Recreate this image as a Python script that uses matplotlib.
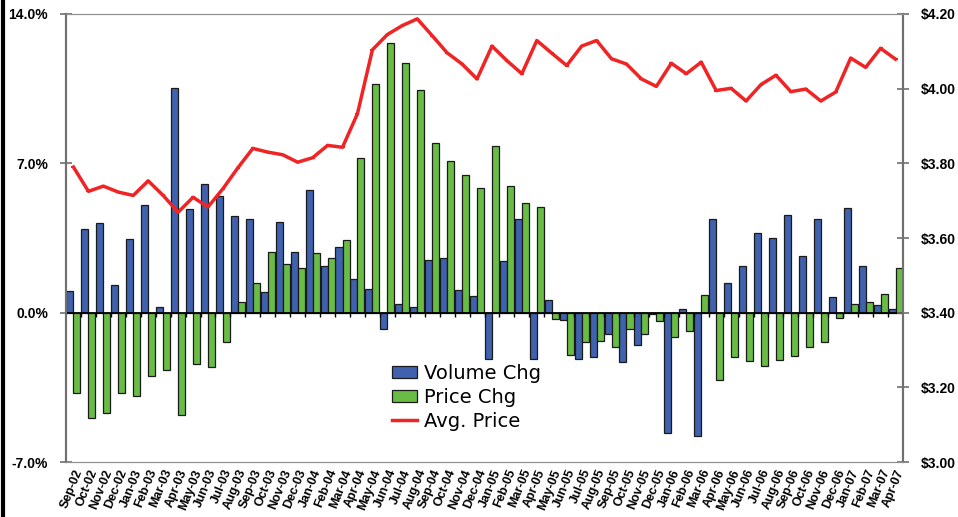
"""
Volume / price change bars with average price line (twin axes).
"""

import matplotlib
matplotlib.use("Agg")
import matplotlib.pyplot as plt
from matplotlib.lines import Line2D
from matplotlib.ticker import FuncFormatter, MultipleLocator
import numpy as np

# ── Data ──────────────────────────────────────────────────────────────────────

months = [
    "Sep-02", "Oct-02", "Nov-02", "Dec-02",
    "Jan-03", "Feb-03", "Mar-03", "Apr-03", "May-03", "Jun-03",
    "Jul-03", "Aug-03", "Sep-03", "Oct-03", "Nov-03", "Dec-03",
    "Jan-04", "Feb-04", "Mar-04", "Apr-04", "May-04", "Jun-04",
    "Jul-04", "Aug-04", "Sep-04", "Oct-04", "Nov-04", "Dec-04",
    "Jan-05", "Feb-05", "Mar-05", "Apr-05", "May-05", "Jun-05",
    "Jul-05", "Aug-05", "Sep-05", "Oct-05", "Nov-05", "Dec-05",
    "Jan-06", "Feb-06", "Mar-06", "Apr-06", "May-06", "Jun-06",
    "Jul-06", "Aug-06", "Sep-06", "Oct-06", "Nov-06", "Dec-06",
    "Jan-07", "Feb-07", "Mar-07", "Apr-07",
]

# volume change (%)
volume_chg = [
    1.03, 3.90, 4.21, 1.31, 3.47, 5.04, 0.28, 10.51, 4.84, 6.02,
    5.47, 4.51, 4.40, 0.98, 4.26, 2.83, 5.77, 2.19, 3.08, 1.60,
    1.09, -0.75, 0.39, 0.28, 2.49, 2.55, 1.04, 0.78, -2.16, 2.40,
    4.39, -2.16, 0.59, -0.34, -2.16, -2.08, -1.01, -2.33, -1.52, -0.08,
    -5.63, 0.16, -5.79, 4.40, 1.37, 2.18, 3.73, 3.51, 4.60, 2.64,
    4.40, 0.75, 4.90, 2.18, 0.34, 0.19,
]

# price change (%)
price_chg = [
    -3.76, -4.95, -4.68, -3.76, -3.92, -2.99, -2.69, -4.81, -2.40, -2.55,
    -1.37, 0.48, 1.37, 2.83, 2.26, 2.10, 2.80, 2.55, 3.42, 7.25,
    10.72, 12.66, 11.70, 10.42, 7.93, 7.11, 6.47, 5.85, 7.82, 5.93,
    5.15, 4.95, -0.28, -1.99, -1.37, -1.31, -1.59, -0.78, -0.98, -0.37,
    -1.12, -0.84, 0.82, -3.17, -2.10, -2.26, -2.49, -2.21, -2.05, -1.63,
    -1.38, -0.23, 0.39, 0.50, 0.87, 2.10,
]

# average price ($)
avg_price = [
    3.790, 3.725, 3.739, 3.723, 3.714, 3.753, 3.714, 3.669, 3.709, 3.683,
    3.732, 3.788, 3.840, 3.830, 3.823, 3.803, 3.815, 3.848, 3.843, 3.933,
    4.104, 4.145, 4.169, 4.187, 4.142, 4.096, 4.066, 4.026, 4.114, 4.075,
    4.040, 4.129, 4.095, 4.062, 4.114, 4.129, 4.080, 4.066, 4.026, 4.006,
    4.068, 4.040, 4.071, 3.995, 4.001, 3.967, 4.011, 4.036, 3.992, 3.999,
    3.967, 3.991, 4.082, 4.057, 4.108, 4.079,
]

# ── Style ─────────────────────────────────────────────────────────────────────

BLUE = "#4062AE"
GREEN = "#69BD45"
RED = "#F02424"
EDGE = "#1a1a1a"
AXIS_GRAY = "#707070"

plt.rcParams["font.family"] = ["Liberation Sans", "DejaVu Sans"]

# ── Plot ──────────────────────────────────────────────────────────────────────

fig = plt.figure(figsize=(9.58, 5.17), dpi=100)
ax = fig.add_axes([66 / 958, 1 - 462 / 517, 837 / 958, 448 / 517])
ax2 = ax.twinx()

x = np.arange(len(months))
w = 0.47

ax.bar(x - w / 2, volume_chg, width=w, color=BLUE, edgecolor=EDGE,
       linewidth=0.9, label="Volume Chg", zorder=3)
ax.bar(x + w / 2, price_chg, width=w, color=GREEN, edgecolor=EDGE,
       linewidth=0.9, label="Price Chg", zorder=3)
ax.axhline(0, color="black", linewidth=1.3, zorder=4)
# little category ticks on the zero line
ax.vlines(x[1:] - 0.5, -0.18, 0, color="black", linewidth=1, zorder=4)

ax2.plot(x, avg_price, color=RED, linewidth=2.5, marker="_", markersize=3,
         markeredgewidth=1.5, label="Avg. Price", zorder=5)

# left axis: percent
ax.set_xlim(-0.5, len(months) - 0.5)
ax.set_ylim(-7, 14)
ax.yaxis.set_major_locator(MultipleLocator(7))
ax.yaxis.set_major_formatter(FuncFormatter(lambda v, p: f"{v:.1f}%"))
ax.tick_params(axis="y", direction="inout", length=8, width=1.2,
               labelsize=10, pad=9, color=AXIS_GRAY)
for lbl in ax.get_yticklabels():
    lbl.set_fontweight("bold")

# right axis: price
ax2.set_ylim(3.0, 4.2)
ax2.yaxis.set_major_locator(MultipleLocator(0.2))
ax2.yaxis.set_major_formatter(FuncFormatter(lambda v, p: f"${v:.2f}"))
ax2.tick_params(axis="y", direction="inout", length=8, width=1.2,
                labelsize=10, pad=9, color=AXIS_GRAY)
for lbl in ax2.get_yticklabels():
    lbl.set_fontweight("bold")

# month labels
ax.set_xticks(x)
ax.set_xticklabels(months, rotation=68, ha="right", rotation_mode="anchor",
                   fontsize=9, fontweight="bold")
ax.tick_params(axis="x", length=0, pad=4)

# spines
for a in (ax, ax2):
    a.spines["top"].set_color("#909090")
    a.spines["bottom"].set_color("#909090")
    a.spines["left"].set_color(AXIS_GRAY)
    a.spines["right"].set_color(AXIS_GRAY)
    a.spines["left"].set_linewidth(1.5)
    a.spines["right"].set_linewidth(1.5)

# legend (no frame)
h1, l1 = ax.get_legend_handles_labels()
h2, l2 = ax2.get_legend_handles_labels()
ax2.legend(h1 + h2, l1 + l2, loc="upper left", bbox_to_anchor=(0.39, 0.219),
           frameon=False, prop={"family": "DejaVu Sans", "size": 14},
           handlelength=1.25, handleheight=0.6, handletextpad=0.35,
           labelspacing=0.25, borderpad=0, borderaxespad=0)

# thick black border at left edge of the picture
fig.add_artist(Line2D([3 / 958, 3 / 958], [0, 1], color="black",
                      linewidth=3, transform=fig.transFigure))

plt.savefig("out.png", dpi=100)
plt.close()
